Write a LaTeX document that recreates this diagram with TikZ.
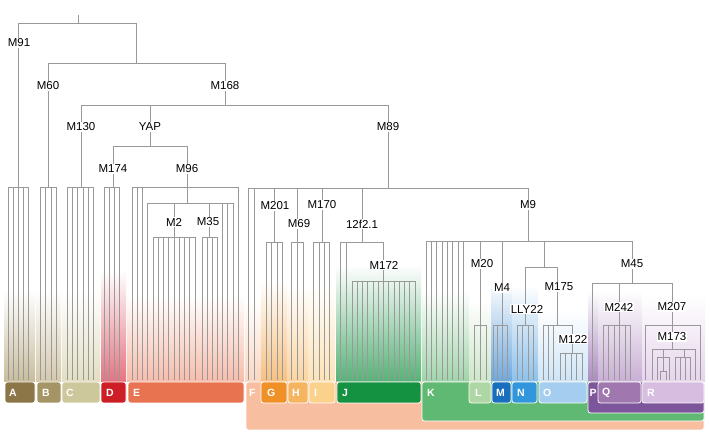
\documentclass[tikz,border=0pt]{standalone}
\usepackage{fontspec}
\setmainfont{Liberation Sans}
\definecolor{cA}{RGB}{140,118,72}
\definecolor{cB}{RGB}{165,148,100}
\definecolor{cC}{RGB}{205,200,155}
\definecolor{cD}{RGB}{205,30,40}
\definecolor{cE}{RGB}{232,115,80}
\definecolor{cPe}{RGB}{248,190,160}
\definecolor{cG}{RGB}{240,145,40}
\definecolor{cH}{RGB}{245,180,95}
\definecolor{cI}{RGB}{250,210,140}
\definecolor{cJ}{RGB}{20,145,65}
\definecolor{cK}{RGB}{95,185,115}
\definecolor{cL}{RGB}{175,215,165}
\definecolor{cM}{RGB}{25,110,190}
\definecolor{cN}{RGB}{50,150,220}
\definecolor{cO}{RGB}{165,205,240}
\definecolor{cP}{RGB}{125,85,155}
\definecolor{cQ}{RGB}{160,120,175}
\definecolor{cR}{RGB}{215,190,225}
\definecolor{gA}{RGB}{200,188,155}
\definecolor{gB}{RGB}{212,200,172}
\definecolor{gC}{RGB}{226,222,194}
\definecolor{gD}{RGB}{228,115,128}
\definecolor{gE}{RGB}{246,188,170}
\definecolor{gF}{RGB}{250,215,195}
\definecolor{gG}{RGB}{246,192,128}
\definecolor{gH}{RGB}{250,212,160}
\definecolor{gI}{RGB}{252,226,182}
\definecolor{gJ}{RGB}{85,178,118}
\definecolor{gK}{RGB}{160,212,170}
\definecolor{gL}{RGB}{205,230,200}
\definecolor{gM}{RGB}{110,168,222}
\definecolor{gN}{RGB}{140,192,234}
\definecolor{gO}{RGB}{205,228,246}
\definecolor{gP}{RGB}{170,138,190}
\definecolor{gQ}{RGB}{200,174,212}
\definecolor{gR}{RGB}{230,212,236}
\newcommand\leafs[2]{\foreach \xx in {#2}{\draw[tl] (\xx,#1) -- (\xx,380);}}
\newcommand\vseg[3]{\draw[tl] (#1,#2) -- (#1,#3);}
\newcommand\hseg[3]{\draw[tl] (#1,#3) -- (#2,#3);}
\newcommand\grad[4]{\shade[top color=white, bottom color=#4] (#1,#3) rectangle (#2,382);}
\newcommand\gbox[4]{\filldraw[fill=#3, draw=white, line width=0.8pt, rounded corners=2.5pt] (#1,382) rectangle (#2,#4);}
\begin{document}
\begin{tikzpicture}[x=1pt,y=-1pt,
  tl/.style={draw=black!40, line width=0.8pt},
  lbl/.style={fill=white, inner sep=0.6pt, font=\fontsize{11.5}{12}\selectfont},
  grp/.style={font=\bfseries\fontsize{10.5}{12}\selectfont, text=white, anchor=west, inner sep=0pt}]
\useasboundingbox (0,0) rectangle (710,446);
\fill[white] (0,0) rectangle (710,446);
% gradients
\grad{4}{35}{290}{gA}
\grad{36}{61}{290}{gB}
\grad{62}{100}{290}{gC}
\grad{101}{126}{270}{gD}
\grad{127}{244}{295}{gE}
\grad{245}{261}{300}{gF}
\grad{261}{287}{280}{gG}
\grad{287}{308}{285}{gH}
\grad{308}{335}{285}{gI}
\grad{336}{421}{265}{gJ}
\grad{422}{469}{290}{gK}
\grad{469}{491}{300}{gL}
\grad{491}{512}{280}{gM}
\grad{512}{538}{285}{gN}
\grad{538}{588}{310}{gO}
\grad{588}{598}{290}{gP}
\grad{598}{642}{290}{gQ}
\grad{642}{705}{295}{gR}
% bands
\gbox{246}{704}{cPe}{430}
\gbox{422}{704}{cK}{421}
\gbox{588}{704}{cP}{413}
% boxes
\gbox{5}{35}{cA}{403}
\gbox{37}{61}{cB}{403}
\gbox{62}{100}{cC}{403}
\gbox{101}{126}{cD}{403}
\gbox{128}{244}{cE}{403}
\gbox{261}{287}{cG}{403}
\gbox{288}{308}{cH}{403}
\gbox{309}{335}{cI}{403}
\gbox{337}{421}{cJ}{403}
\gbox{469}{491}{cL}{403}
\gbox{492}{511}{cM}{403}
\gbox{512}{537}{cN}{403}
\gbox{539}{587}{cO}{403}
\gbox{598}{641}{cQ}{403}
\gbox{642}{704}{cR}{403}
% tree: top
\vseg{78}{15}{23}
\hseg{18}{136}{23}
\vseg{18}{23}{187}
\vseg{136}{23}{63}
\hseg{48}{225}{63}
\vseg{48}{63}{187}
\vseg{225}{63}{105}
\hseg{81}{388}{105}
\vseg{81}{105}{187}
\vseg{150}{105}{146}
\hseg{113}{187}{146}
\vseg{113}{146}{187}
\vseg{187}{146}{203}
\vseg{388}{105}{188}
% A-D
\hseg{8}{28}{187}\leafs{187}{8,13,18,23,28}
\hseg{40}{56}{187}\leafs{187}{40,45,51,56}
\hseg{67}{93}{187}\leafs{187}{67,72,77,83,88,93}
\hseg{104}{119}{187}\leafs{187}{104,109,114,119}
% E
\hseg{132}{238}{187}\leafs{187}{132,137,142,238}
\hseg{147}{233}{203}\leafs{203}{147,222,227,233}
\vseg{174}{203}{237}\vseg{209}{203}{237}
\hseg{153}{195}{237}\leafs{237}{153,158,163,168,174,179,184,189,195}
\hseg{202}{217}{237}\leafs{237}{202,207,212,217}
% F-J
\hseg{248}{528}{188}\leafs{188}{248,254}
\vseg{274}{188}{242}\hseg{266}{282}{242}\leafs{242}{266,271,277,282}
\vseg{297}{188}{242}\hseg{291}{303}{242}\leafs{242}{291,297,303}
\vseg{322}{188}{242}\hseg{313}{329}{242}\leafs{242}{313,319,324,329}
\vseg{362}{188}{242}\hseg{340}{383}{242}\leafs{242}{340,346}
\vseg{383}{242}{281}\hseg{352}{415}{281}\leafs{281}{352,357.25,...,415.1}
% K-O
\vseg{528}{188}{241}\hseg{426}{632}{241}
\leafs{241}{426,431,436,442,447,452,458,463}
\vseg{480}{241}{325}\hseg{474}{486}{325}\leafs{325}{474,480,486}
\vseg{502}{241}{325}\hseg{493}{507}{325}\leafs{325}{493,497,502,507}
\vseg{544}{241}{267}\hseg{525}{557}{267}
\vseg{525}{267}{325}\hseg{517}{533}{325}\leafs{325}{517,522,528,533}
\vseg{557}{267}{325}\hseg{543}{572}{325}\leafs{325}{543,548,553}
\vseg{572}{325}{353}\hseg{560}{582}{353}\leafs{353}{560,565.5,571,576.5,582}
% P-R
\vseg{632}{241}{283}\hseg{592}{672}{283}\leafs{283}{592}
\vseg{619}{283}{325}\hseg{603}{630}{325}\leafs{325}{603,608,614,619,625,630}
\vseg{672}{283}{349}\hseg{645}{700}{325}\leafs{325}{645,700}
\hseg{652}{695}{349}\leafs{349}{652,695}
\vseg{663}{349}{357}\hseg{657}{669}{357}\leafs{357}{657,669}
\vseg{663}{357}{371}\hseg{660}{666}{371}\leafs{371}{660,666}
\vseg{684}{349}{357}\hseg{675}{690}{357}\leafs{357}{675,680,685,690}
% marker labels
\node[lbl] (m91) at (19,43) {M91};
\node[lbl] (m60) at (48,86) {M60};
\node[lbl] (m168) at (225,86) {M168};
\node[lbl] (m130) at (81,127) {M130};
\node[lbl] (yap) at (150,127) {YAP};
\node[lbl] (m89) at (388,127) {M89};
\node[lbl] (m174) at (113,169) {M174};
\node[lbl] (m96) at (187,169) {M96};
\node[lbl] (m2) at (174,222) {M2};
\node[lbl] (m35) at (208,222) {M35};
\node[lbl] (m201) at (275,206) {M201};
\node[lbl] (m69) at (299,224) {M69};
\node[lbl] (m170) at (322,205) {M170};
\node[lbl] (f12) at (362,224) {12f2.1};
\node[lbl] (m172) at (384,265) {M172};
\node[lbl] (m9) at (528,205) {M9};
\node[lbl] (m20) at (482,264) {M20};
\node[lbl] (m4) at (502,288) {M4};
\node[lbl] (m175) at (559,287) {M175};
\node[lbl] (lly) at (527,309) {LLY22};
\node[lbl] (m122) at (573,339) {M122};
\node[lbl] (m45) at (632,264) {M45};
\node[lbl] (m242) at (619,307) {M242};
\node[lbl] (m207) at (672,307) {M207};
\node[lbl] (m173) at (672,337) {M173};
% group letters
\node[grp] (la) at (9,393) {A};
\node[grp] (lb) at (42,393) {B};
\node[grp] (lc) at (66,393) {C};
\node[grp] (ld) at (106,393) {D};
\node[grp] (le) at (133,393) {E};
\node[grp] (lf) at (249,393) {F};
\node[grp] (lg) at (267,393) {G};
\node[grp] (lh) at (292,393) {H};
\node[grp] (li) at (314,393) {I};
\node[grp] (lj) at (342,393) {J};
\node[grp] (lk) at (427,393) {K};
\node[grp] (ll) at (475,393) {L};
\node[grp] (lm) at (496,393) {M};
\node[grp] (ln) at (517,393) {N};
\node[grp] (lo) at (543,393) {O};
\node[grp] (lp) at (589.5,393) {P};
\node[grp] (lq) at (602,393) {Q};
\node[grp] (lr) at (647,393) {R};
\end{tikzpicture}
\end{document}
